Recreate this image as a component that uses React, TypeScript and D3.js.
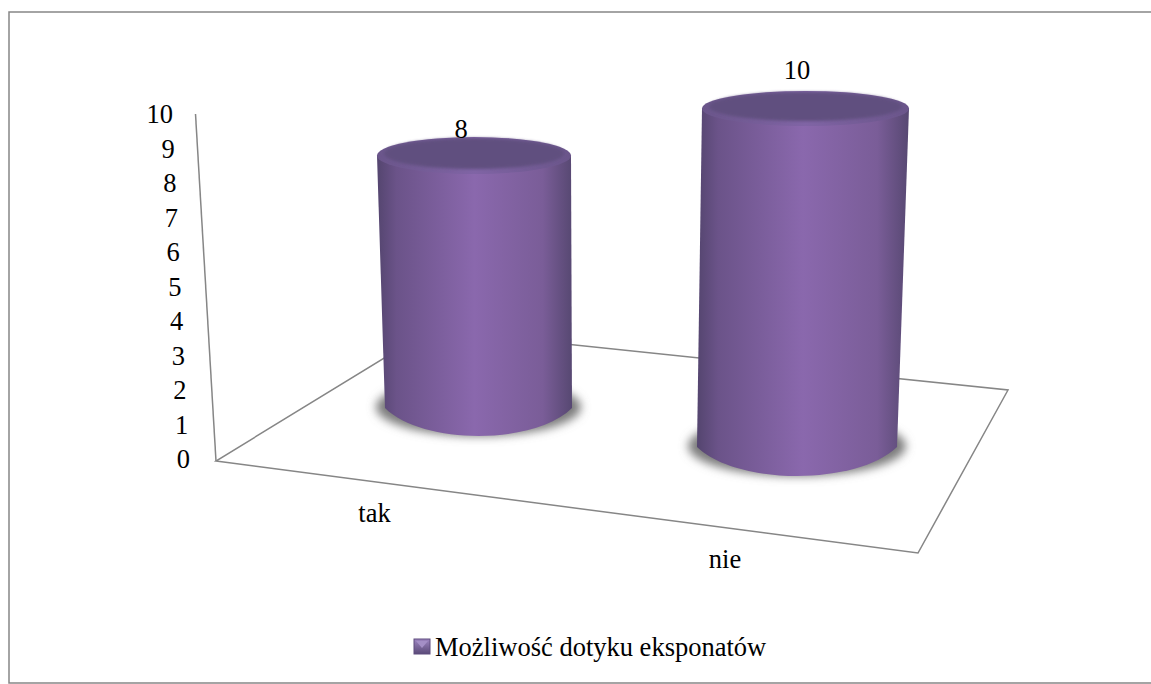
import React from "react";
import * as d3 from "d3";

const categories = ["tak", "nie"];
const seriesValues = [8, 10];
const seriesName = "Możliwość dotyku eksponatów";
const tickValues = [0, 1, 2, 3, 4, 5, 6, 7, 8, 9, 10];

const W = 1151, H = 684;
const FONT = "'Liberation Serif','Times New Roman',serif";

// perspective layout for each category: the base ellipse, top ellipse, and pixels-per-unit
const layout = [
  { baseX: 478.5, baseY: 408, baseRx: 93.5, baseRy: 28, topX: 474, topRx: 97, topRy: 18.5, unit: 31.56, labelX: 461, labelY: 138, catX: 374.5, catY: 522 },
  { baseX: 797, baseY: 447, baseRx: 100, baseRy: 29, topX: 805.5, topRx: 103.5, topRy: 17.5, unit: 33.85, labelX: 797, labelY: 79, catX: 725, catY: 568 },
];

const axisY = d3.scaleLinear().domain([0, 10]).range([468, 123]);
const axisX = d3.scaleLinear().domain([0, 10]).range([190, 173]);

function Cylinder({ i, value }: { i: number; value: number }) {
  const g = layout[i];
  const topY = g.baseY - value * g.unit;
  const side = d3.path();
  side.moveTo(g.topX - g.topRx, topY);
  side.lineTo(g.baseX - g.baseRx, g.baseY);
  side.bezierCurveTo(
    g.baseX - g.baseRx * 0.6, g.baseY + g.baseRy * 1.33,
    g.baseX + g.baseRx * 0.6, g.baseY + g.baseRy * 1.33,
    g.baseX + g.baseRx, g.baseY
  );
  side.lineTo(g.topX + g.topRx, topY);
  side.closePath();
  return (
    <g>
      <ellipse cx={g.baseX} cy={g.baseY - 1} rx={g.baseRx + 9} ry={g.baseRy + 1} fill="#7c7c7c" filter="url(#soft)" />
      <path d={side.toString()} fill="url(#body)" />
      <ellipse cx={g.topX} cy={topY} rx={g.topRx} ry={g.topRy} fill="url(#rim)" />
      <ellipse cx={g.topX} cy={topY - 2} rx={g.topRx - 7} ry={g.topRy - 3} fill="#60507f" filter="url(#soft2)" />
    </g>
  );
}

export default function App() {
  const textStyle = { fontFamily: FONT, fontSize: 26.5, fill: "#000" } as const;
  return (
    <svg width={W} height={H} viewBox={`0 0 ${W} ${H}`} style={{ position: "fixed", left: 0, top: 0, display: "block", background: "#fff" }}>
      <defs>
        <linearGradient id="body" x1="0" x2="1" y1="0" y2="0">
          <stop offset="0" stopColor="#54456f" />
          <stop offset="0.1" stopColor="#6b5389" />
          <stop offset="0.5" stopColor="#8a68ad" />
          <stop offset="0.85" stopColor="#7a5d98" />
          <stop offset="1" stopColor="#574872" />
        </linearGradient>
        <linearGradient id="rim" x1="0" x2="1" y1="0" y2="0">
          <stop offset="0" stopColor="#6a558a" />
          <stop offset="0.5" stopColor="#8064a5" />
          <stop offset="1" stopColor="#6a558a" />
        </linearGradient>
        <linearGradient id="swatch" x1="0" x2="0" y1="0" y2="1">
          <stop offset="0" stopColor="#9d85c0" />
          <stop offset="1" stopColor="#5a4a78" />
        </linearGradient>
        <filter id="soft" x="-20%" y="-40%" width="140%" height="180%"><feGaussianBlur stdDeviation="5" /></filter>
        <filter id="soft2" x="-20%" y="-40%" width="140%" height="180%"><feGaussianBlur stdDeviation="1.5" /></filter>
      </defs>
      <path d={`M${W},12 L9,12 L9,683 L${W},683`} fill="none" stroke="#868686" strokeWidth={1.5} />

      <path d="M216,461 L918,553 L1008,390 L430,330 Z" fill="none" stroke="#868686" strokeWidth={1.5} />
      <path d="M195.5,114 L216,461" fill="none" stroke="#868686" strokeWidth={1.5} />

      {tickValues.map((t) => (
        <text key={t} x={axisX(t)} y={axisY(t)} textAnchor="end" style={textStyle}>{t}</text>
      ))}

      {seriesValues.map((v, i) => <Cylinder key={categories[i]} i={i} value={v} />)}

      {seriesValues.map((v, i) => (
        <text key={i} x={layout[i].labelX} y={layout[i].labelY} textAnchor="middle" style={textStyle}>{v}</text>
      ))}
      {categories.map((c, i) => (
        <text key={c} x={layout[i].catX} y={layout[i].catY} textAnchor="middle" style={textStyle}>{c}</text>
      ))}

      <rect x={414} y={639} width={16} height={15} fill="url(#swatch)" stroke="#5f4d7e" strokeWidth={1} />
      <path d="M416,641 L428,641 L422,648 Z" fill="#a48fc6" />
      <text x={435} y={656} style={textStyle}>{seriesName}</text>
    </svg>
  );
}
